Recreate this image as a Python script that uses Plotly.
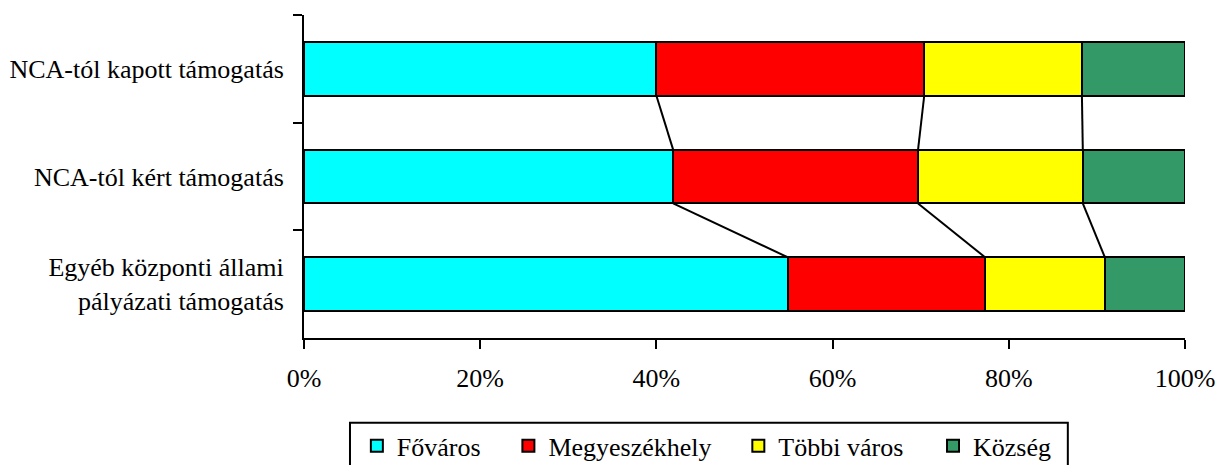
import plotly.graph_objects as go

# Categories listed from top to bottom
categories = [
    "NCA-tól kapott támogatás",
    "NCA-tól kért támogatás",
    "Egyéb központi állami<br>pályázati támogatás",
]

# Percentage share of each settlement type
fovaros = [40.0, 41.9, 54.9]
megyeszekhely = [30.4, 27.8, 22.4]
tobbi_varos = [17.9, 18.7, 13.6]
kozseg = [11.7, 11.6, 9.1]

series_names = ["Főváros", "Megyeszékhely", "Többi város", "Község"]
series_values = [fovaros, megyeszekhely, tobbi_varos, kozseg]
series_colors = ["#00FFFF", "#FF0000", "#FFFF00", "#339966"]

x_ticks = [0, 20, 40, 60, 80, 100]

FONT = "Liberation Serif, Times New Roman, serif"
FONT_SIZE = 26
BAR_WIDTH = 0.5

# Each legend entry sits in its own legend so the entries can be spaced freely
legend_ids = ["legend", "legend2", "legend3", "legend4"]
legend_x = [0.060, 0.232, 0.493, 0.714]
LEGEND_Y = -0.334

fig = go.Figure()

for name, vals, color, lid in zip(series_names, series_values, series_colors, legend_ids):
    fig.add_trace(go.Bar(
        name=name,
        x=vals,
        y=categories,
        orientation="h",
        marker=dict(color=color, line=dict(color="black", width=2)),
        width=BAR_WIDTH,
        legend=lid,
    ))

# Series lines joining the cumulative boundaries of neighbouring bars
cumulative = []
running = [0.0] * len(categories)
for vals in series_values[:-1]:
    running = [r + v for r, v in zip(running, vals)]
    cumulative.append(list(running))

line_x, line_y = [], []
for bounds in cumulative:
    for i in range(len(categories) - 1):
        line_x += [bounds[i], bounds[i + 1], None]
        line_y += [i + BAR_WIDTH / 2, i + 1 - BAR_WIDTH / 2, None]

fig.add_trace(go.Scatter(
    x=line_x, y=line_y, mode="lines",
    line=dict(color="black", width=2),
    yaxis="y2", showlegend=False, hoverinfo="skip",
))

legend_style = dict(
    orientation="h",
    xanchor="left",
    yanchor="middle",
    y=LEGEND_Y,
    bgcolor="rgba(0,0,0,0)",
    borderwidth=0,
    font=dict(family=FONT, size=FONT_SIZE, color="black"),
)

fig.update_layout(
    barmode="stack",
    width=1224,
    height=465,
    margin=dict(l=304, r=39, t=15, b=127, autoexpand=False),
    paper_bgcolor="white",
    plot_bgcolor="white",
    font=dict(family=FONT, size=FONT_SIZE, color="black"),
    xaxis=dict(
        range=[0, 100],
        tickvals=x_ticks,
        ticktext=[f"{t}%" for t in x_ticks],
        showgrid=False,
        zeroline=False,
        showline=True,
        linecolor="black",
        linewidth=2,
        ticks="outside",
        ticklen=9,
        tickwidth=2,
        tickcolor="black",
        ticklabelstandoff=7,
    ),
    yaxis=dict(
        type="category",
        autorange="reversed",
        tickson="boundaries",
        showgrid=False,
        showline=True,
        linecolor="black",
        linewidth=2,
        ticks="outside",
        ticklen=9,
        tickwidth=2,
        tickcolor="black",
        ticklabelstandoff=13,
    ),
    yaxis2=dict(
        overlaying="y",
        range=[len(categories) - 0.5, -0.5],
        visible=False,
    ),
    shapes=[dict(
        type="rect", xref="paper", yref="paper",
        x0=0.0522, x1=0.867, y0=-0.262, y1=-0.6,
        line=dict(color="black", width=2),
        fillcolor="white", layer="below",
    )],
)

for lid, lx in zip(legend_ids, legend_x):
    fig.update_layout({lid: dict(legend_style, x=lx)})

fig.write_html("out.html")
